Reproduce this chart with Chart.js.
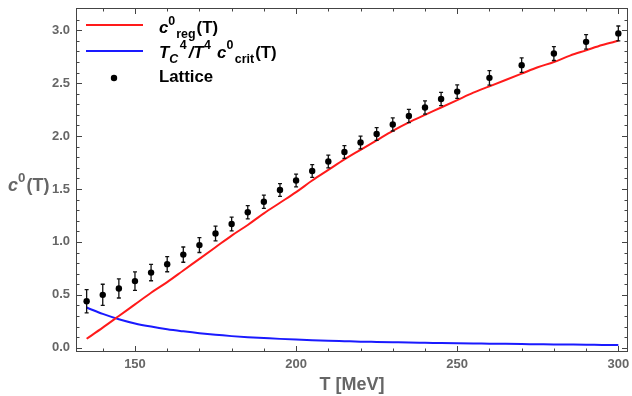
<!DOCTYPE html>
<html>
<head>
<meta charset="utf-8">
<script src="https://cdn.jsdelivr.net/npm/chart.js@4.4.1/dist/chart.umd.min.js"></script>
<style>
  html, body { margin: 0; padding: 0; background: #fff; }
  #c0Chart { display: block; }
</style>
</head>
<body>
<canvas id="c0Chart" width="632" height="396"></canvas>
<script>
// Lattice data (T in MeV)
const latticeT = [135, 140, 145, 150, 155, 160, 165, 170, 175, 180, 185, 190, 195, 200,
                  205, 210, 215, 220, 225, 230, 235, 240, 245, 250, 260, 270, 280, 290, 300];
const latticeValues = [0.44, 0.50, 0.56, 0.63, 0.71, 0.79, 0.88, 0.97, 1.08, 1.17, 1.28, 1.38, 1.49, 1.58,
                       1.67, 1.76, 1.85, 1.94, 2.02, 2.11, 2.19, 2.27, 2.35, 2.42, 2.55, 2.67, 2.78, 2.89, 2.97];
const latticeErrors = [0.11, 0.10, 0.09, 0.087, 0.077, 0.072, 0.072, 0.07, 0.07, 0.065, 0.063, 0.063, 0.06, 0.06,
                       0.06, 0.06, 0.06, 0.06, 0.06, 0.062, 0.062, 0.062, 0.063, 0.063, 0.068, 0.068, 0.066, 0.068, 0.07];

// model curves
const curveT = [135, 140, 145, 150, 155, 160, 165, 170, 175, 180, 185, 190, 195, 200, 205, 210, 215, 220,
                225, 230, 235, 240, 245, 250, 255, 260, 265, 270, 275, 280, 285, 290, 295, 300];
const regValues = [0.085, 0.19, 0.30, 0.41, 0.52, 0.62, 0.73, 0.84, 0.95, 1.06, 1.16, 1.27, 1.37, 1.47, 1.58, 1.68, 1.78,
                   1.87, 1.96, 2.05, 2.13, 2.20, 2.27, 2.34, 2.41, 2.47, 2.53, 2.59, 2.65, 2.70, 2.76, 2.81, 2.86, 2.90];
const critValues = [0.38, 0.32, 0.27, 0.23, 0.20, 0.175, 0.155, 0.137, 0.122, 0.11, 0.10, 0.092, 0.084, 0.077, 0.071,
                    0.066, 0.062, 0.058, 0.055, 0.052, 0.049, 0.047, 0.045, 0.043, 0.041, 0.039, 0.037, 0.035, 0.033,
                    0.031, 0.030, 0.029, 0.027, 0.026];

// axis ticks
const xMajorTicks = [150, 200, 250, 300];
const xMinorTicks = [140, 160, 170, 180, 190, 210, 220, 230, 240, 260, 270, 280, 290];
const yMajorTicks = [0.0, 0.5, 1.0, 1.5, 2.0, 2.5, 3.0];
const yMinorTicks = [0.1, 0.2, 0.3, 0.4, 0.6, 0.7, 0.8, 0.9, 1.1, 1.2, 1.3, 1.4, 1.6, 1.7, 1.8, 1.9,
                     2.1, 2.2, 2.3, 2.4, 2.6, 2.7, 2.8, 2.9, 3.1];

const FONT = '"Liberation Sans", Arial, sans-serif';
const axisGray = '#666666';
const frameColor = '#444444';

// draws text with sub/superscripts, left to right
function drawRich(ctx, x, y, parts, size, color) {
    ctx.fillStyle = color;
    ctx.textAlign = 'left';
    ctx.textBaseline = 'alphabetic';
    parts.forEach(p => {
        const s = p.pos ? size * 0.74 : size;
        ctx.font = (p.it ? 'italic ' : '') + 'bold ' + s + 'px ' + FONT;
        let dy = 0;
        if (p.pos === 'sup') dy = -size * 0.5;
        if (p.pos === 'sub') dy = size * 0.32;
        ctx.fillText(p.t, x, y + dy);
        x += ctx.measureText(p.t).width + (p.gap || 0);
    });
}

// frame with inward ticks on all four sides
const framePlugin = {
    id: 'frame',
    afterDatasetsDraw(chart) {
        const {ctx, chartArea: a, scales: {x, y}} = chart;
        ctx.save();
        ctx.strokeStyle = frameColor;
        ctx.lineWidth = 1;
        ctx.strokeRect(a.left + 0.5, a.top + 0.5, a.right - a.left - 1, a.bottom - a.top - 1);
        ctx.beginPath();
        const xt = (v, len) => {
            const px = Math.round(x.getPixelForValue(v)) + 0.5;
            ctx.moveTo(px, a.bottom); ctx.lineTo(px, a.bottom - len);
            ctx.moveTo(px, a.top); ctx.lineTo(px, a.top + len);
        };
        const yt = (v, len) => {
            const py = Math.round(y.getPixelForValue(v)) + 0.5;
            ctx.moveTo(a.left, py); ctx.lineTo(a.left + len, py);
            ctx.moveTo(a.right, py); ctx.lineTo(a.right - len, py);
        };
        xMajorTicks.forEach(v => xt(v, 6));
        xMinorTicks.forEach(v => xt(v, 3.5));
        yMajorTicks.forEach(v => yt(v, 6));
        yMinorTicks.forEach(v => yt(v, 3.5));
        ctx.stroke();
        ctx.restore();
    }
};

// error bars for the lattice points
const errorBarPlugin = {
    id: 'errorBars',
    beforeDatasetDraw(chart, args) {
        if (args.index !== 0) return;
        const {ctx, scales: {x, y}} = chart;
        ctx.save();
        ctx.strokeStyle = '#111';
        ctx.lineWidth = 1.3;
        ctx.beginPath();
        latticeT.forEach((t, i) => {
            const px = x.getPixelForValue(t);
            const lo = y.getPixelForValue(latticeValues[i] - latticeErrors[i]);
            const hi = y.getPixelForValue(latticeValues[i] + latticeErrors[i]);
            ctx.moveTo(px, lo); ctx.lineTo(px, hi);
            ctx.moveTo(px - 2, lo); ctx.lineTo(px + 2, lo);
            ctx.moveTo(px - 2, hi); ctx.lineTo(px + 2, hi);
        });
        ctx.stroke();
        ctx.restore();
    }
};

// legend and y title (rich text)
const textPlugin = {
    id: 'richText',
    afterDraw(chart) {
        const ctx = chart.ctx;
        const ds = chart.data.datasets;
        ctx.save();
        // legend samples
        ctx.lineWidth = 2;
        ctx.strokeStyle = ds[1].borderColor;
        ctx.beginPath(); ctx.moveTo(86, 25); ctx.lineTo(143, 25); ctx.stroke();
        ctx.strokeStyle = ds[2].borderColor;
        ctx.beginPath(); ctx.moveTo(86, 51); ctx.lineTo(143, 51); ctx.stroke();
        ctx.fillStyle = ds[0].backgroundColor;
        ctx.beginPath(); ctx.arc(114, 78, 3.2, 0, Math.PI * 2); ctx.fill();

        const size = 16.8;
        drawRich(ctx, 159, 33, [
            {t: 'c', it: true}, {t: '0', pos: 'sup', gap: 1}, {t: 'reg', pos: 'sub', gap: 1}, {t: '(T)'}
        ], size, '#000');
        drawRich(ctx, 159, 57.5, [
            {t: 'T', it: true}, {t: 'C', it: true, pos: 'sub', gap: 1.5}, {t: '4', pos: 'sup', gap: 2},
            {t: '/', it: true}, {t: 'T', it: true, gap: 0.5}, {t: '4', pos: 'sup', gap: 1.5}, {t: ' c', it: true},
            {t: '0', pos: 'sup', gap: 1.5}, {t: 'crit', pos: 'sub', gap: 1}, {t: '(T)'}
        ], size, '#000');
        drawRich(ctx, 159, 82, [{t: ds[0].label}], size, '#000');

        // y axis title
        drawRich(ctx, 8, 191, [{t: 'c', it: true}, {t: '0', pos: 'sup', gap: 1}, {t: '(T)'}], 18, axisGray);
        ctx.restore();
    }
};

const ctx = document.getElementById('c0Chart').getContext('2d');
const c0Chart = new Chart(ctx, {
    type: 'scatter',
    data: {
        datasets: [
            {
                label: 'Lattice',
                data: latticeT.map((t, i) => ({x: t, y: latticeValues[i]})),
                backgroundColor: '#000000',
                borderColor: '#000000',
                pointRadius: 3.2,
                pointBorderWidth: 0,
                showLine: false,
                order: 0
            },
            {
                label: 'c0 reg(T)',
                data: curveT.map((t, i) => ({x: t, y: regValues[i]})),
                borderColor: '#ff1a1a',
                borderWidth: 2,
                pointRadius: 0,
                showLine: true,
                cubicInterpolationMode: 'monotone',
                order: 1
            },
            {
                label: 'Tc^4/T^4 c0 crit(T)',
                data: curveT.map((t, i) => ({x: t, y: critValues[i]})),
                borderColor: '#1a1aff',
                borderWidth: 2,
                pointRadius: 0,
                showLine: true,
                cubicInterpolationMode: 'monotone',
                order: 2
            }
        ]
    },
    options: {
        responsive: false,
        animation: false,
        layout: {padding: {left: 0, right: 2, top: 8, bottom: 0}},
        plugins: {
            legend: {display: false},
            tooltip: {enabled: false}
        },
        scales: {
            x: {
                type: 'linear',
                min: 131.7,
                max: 303,
                grid: {display: false, drawTicks: false},
                border: {display: false},
                afterBuildTicks: (scale) => { scale.ticks = xMajorTicks.map(v => ({value: v})); },
                ticks: {
                    font: {family: FONT, weight: 'bold', size: 13},
                    color: axisGray,
                    padding: 5,
                    autoSkip: false,
                    maxRotation: 0
                },
                title: {
                    display: true,
                    text: 'T [MeV]',
                    font: {family: FONT, weight: 'bold', size: 18},
                    color: axisGray,
                    padding: {top: 0, bottom: 0}
                },
                afterFit: (scale) => {
                    scale.height = 44;
                    scale.paddingLeft = 0;
                    scale.paddingRight = 0;
                }
            },
            y: {
                type: 'linear',
                min: -0.04,
                max: 3.21,
                grid: {display: false, drawTicks: false},
                border: {display: false},
                afterBuildTicks: (scale) => { scale.ticks = yMajorTicks.map(v => ({value: v})); },
                ticks: {
                    font: {family: FONT, weight: 'bold', size: 13},
                    color: axisGray,
                    padding: 6,
                    callback: (v) => Number(v).toFixed(1)
                },
                afterFit: (scale) => {
                    scale.width = 76;
                    scale.paddingTop = 0;
                    scale.paddingBottom = 0;
                }
            }
        }
    },
    plugins: [framePlugin, errorBarPlugin, textPlugin]
});
</script>
</body>
</html>
